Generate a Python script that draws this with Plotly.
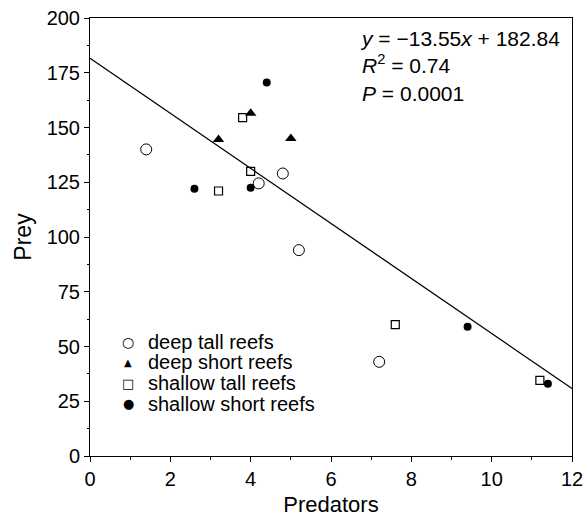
import plotly.graph_objects as go

# Data
deep_tall_x = [1.4, 4.2, 4.8, 5.2, 7.2]
deep_tall_y = [140, 124.5, 129, 94, 43]
deep_short_x = [3.2, 4.0, 5.0]
deep_short_y = [144.5, 156.5, 145]
shallow_tall_x = [3.8, 4.0, 3.2, 7.6, 11.2]
shallow_tall_y = [154.5, 130, 121, 60, 34.5]
shallow_short_x = [4.4, 2.6, 4.0, 9.4, 11.4]
shallow_short_y = [170.5, 122, 122.5, 59, 33]
fit_x = [0, 12]
fit_y = [181.6, 30.8]

legend_names = ["deep tall reefs", "deep short reefs", "shallow tall reefs", "shallow short reefs"]
legend_glyphs = ["\u25CB", "\u25B2", "\u25A1", "\u25CF"]
legend_glyph_sizes = [14, 10, 13, 13]

FONT = "Liberation Sans, Arial, Helvetica, sans-serif"

fig = go.Figure()
fig.add_trace(go.Scatter(x=fit_x, y=fit_y, mode="lines", line=dict(color="black", width=1.3),
                         showlegend=False, hoverinfo="skip"))
fig.add_trace(go.Scatter(x=deep_tall_x, y=deep_tall_y, mode="markers", name=legend_names[0],
                         marker=dict(symbol="circle-open", size=11, color="black", line=dict(width=1))))
fig.add_trace(go.Scatter(x=deep_short_x, y=deep_short_y, mode="markers", name=legend_names[1],
                         marker=dict(symbol="triangle-up", size=10, color="black")))
fig.add_trace(go.Scatter(x=shallow_tall_x, y=shallow_tall_y, mode="markers", name=legend_names[2],
                         marker=dict(symbol="square-open", size=8, color="black", line=dict(width=1.2))))
fig.add_trace(go.Scatter(x=shallow_short_x, y=shallow_short_y, mode="markers", name=legend_names[3],
                         marker=dict(symbol="circle", size=8, color="black")))

# Equation text
fig.add_annotation(
    xref="paper", yref="paper", x=0.555, y=0.983, xanchor="left", yanchor="top",
    align="left", showarrow=False,
    text="<i>y</i> = \u221213.55<i>x</i> + 182.84<br><i>R</i><sup>2</sup> = 0.74<br><i>P</i> = 0.0001",
    font=dict(family=FONT, size=21, color="black"),
)

# Manual legend (tight line spacing as in the reference)
legend_y0 = 0.261
legend_dy = 0.0473
for i, (name, glyph, gs) in enumerate(zip(legend_names, legend_glyphs, legend_glyph_sizes)):
    yy = legend_y0 - i * legend_dy
    fig.add_annotation(xref="paper", yref="paper", x=0.079, y=yy, xanchor="center", yanchor="middle",
                       showarrow=False, text=glyph,
                       font=dict(family="DejaVu Sans", size=gs, color="black"))
    fig.add_annotation(xref="paper", yref="paper", x=0.117, y=yy, xanchor="left", yanchor="middle",
                       showarrow=False, text=name,
                       font=dict(family=FONT, size=20, color="black"))

fig.update_layout(
    width=584, height=517,
    margin=dict(l=90, r=12, t=18, b=61),
    paper_bgcolor="white", plot_bgcolor="white",
    font=dict(family=FONT, size=20, color="black"),
    showlegend=False,
    xaxis=dict(range=[0, 12], tickvals=[0, 2, 4, 6, 8, 10, 12], ticks="outside", ticklen=5,
               tickcolor="black", showline=True, linecolor="black", linewidth=1, mirror=True,
               showgrid=False, zeroline=False, automargin=False,
               minor=dict(dtick=1, ticks="outside", ticklen=3, tickcolor="black"),
               title=dict(text="Predators", font=dict(size=22), standoff=8)),
    yaxis=dict(range=[0, 200], tickvals=[0, 25, 50, 75, 100, 125, 150, 175, 200], ticks="outside",
               ticklen=5, tickcolor="black", showline=True, linecolor="black", linewidth=1,
               mirror=True, showgrid=False, zeroline=False, automargin=False,
               minor=dict(dtick=12.5, ticks="outside", ticklen=2, tickcolor="black"),
               title=dict(text="Prey", font=dict(size=23), standoff=8)),
)

fig.write_html(
    "out.html",
    config={"displayModeBar": False},
    post_script="document.body.style.margin='0';document.body.style.padding='0';document.body.style.overflow='hidden';",
)
